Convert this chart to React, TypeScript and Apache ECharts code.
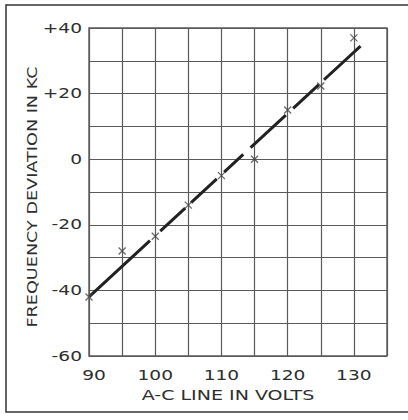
import React, { useEffect, useRef } from "react";
import * as echarts from "echarts";

const volts = [90, 95, 100, 105, 110, 115, 120, 125, 130];
const deviation = [-42, -28, -23.5, -14, -5, 0, 15, 22.3, 37];
const fitVolts = [90, 131];
const fitDeviation = [-42, 34.5];
const xTickLabels = [90, 100, 110, 120, 130];
const yTickLabels = [40, 20, 0, -20, -40, -60];

const FONT = "DejaVu Sans";
const INK = "#2e2e2e";

export default function App() {
  const ref = useRef<HTMLDivElement>(null);
  useEffect(() => {
    if (!ref.current) return;
    const chart = echarts.init(ref.current, null, { renderer: "svg" });
    const gridColor = "#5a5a5a";
    chart.setOption({
      animation: false,
      backgroundColor: "#ffffff",
      grid: { left: 89, top: 28, right: 21, bottom: 64 },
      xAxis: {
        type: "value",
        min: 90,
        max: 135,
        interval: 5,
        axisLine: { show: false },
        axisTick: { show: false },
        splitLine: { show: true, lineStyle: { color: gridColor, width: 1.2 } },
        axisLabel: { show: false },
      },
      yAxis: {
        type: "value",
        min: -60,
        max: 40,
        interval: 10,
        axisLine: { show: false },
        axisTick: { show: false },
        splitLine: { show: true, lineStyle: { color: gridColor, width: 1.2 } },
        axisLabel: { show: false },
      },
      series: [
        {
          type: "line",
          data: fitVolts.map((v, i) => [v, fitDeviation[i]]),
          symbol: "none",
          lineStyle: {
            color: "#222",
            width: 3,
            type: [83, 14, 34, 8, 35, 10, 26, 10, 48, 10, 35, 7, 50, 20],
            cap: "butt",
          },
          z: 3,
        },
        {
          type: "scatter",
          data: volts.map((v, i) => [v, deviation[i]]),
          symbol: "path://M0,0L10,10M10,0L0,10",
          symbolSize: 7,
          itemStyle: { color: "none", borderColor: "#444", borderWidth: 1.3 },
          z: 4,
        },
      ],
    });

    const labelStyle = (text: string, align: string) => ({
      text,
      fill: INK,
      font: `14px "${FONT}"`,
      align,
      verticalAlign: "middle",
    });

    const xLabels = xTickLabels.map((v) => {
      const [px] = chart.convertToPixel({ gridIndex: 0 }, [v, -60]) as number[];
      return {
        type: "text",
        x: px + (v === 90 ? 5 : 0),
        y: 375,
        scaleX: 1.33,
        style: labelStyle(String(v), "center"),
      };
    });
    const yLabels = yTickLabels.map((v) => {
      const [, py] = chart.convertToPixel({ gridIndex: 0 }, [90, v]) as number[];
      return {
        type: "text",
        x: 82,
        y: py,
        scaleX: 1.33,
        style: labelStyle(v > 0 ? "+" + v : String(v), "right"),
      };
    });

    chart.setOption({
      graphic: [
        {
          type: "rect",
          shape: { x: 6, y: 5, width: 410, height: 407 },
          style: { fill: "none", stroke: "#333", lineWidth: 1.5 },
          z: 100,
        },
        {
          type: "rect",
          shape: { x: 89, y: 28, width: 298, height: 328 },
          style: { fill: "none", stroke: gridColor, lineWidth: 1.4 },
          z: 100,
        },
        {
          type: "text",
          x: 228,
          y: 395,
          scaleX: 1.36,
          style: labelStyle("A-C LINE IN VOLTS", "center"),
        },
        {
          type: "text",
          x: 32,
          y: 197,
          rotation: Math.PI / 2,
          scaleX: 1.26,
          style: labelStyle("FREQUENCY DEVIATION IN KC", "center"),
        },
        ...xLabels,
        ...yLabels,
      ],
    });
    return () => chart.dispose();
  }, []);
  return (
    <div
      ref={ref}
      style={{ position: "fixed", left: 0, top: 0, width: 408, height: 420 }}
    />
  );
}
